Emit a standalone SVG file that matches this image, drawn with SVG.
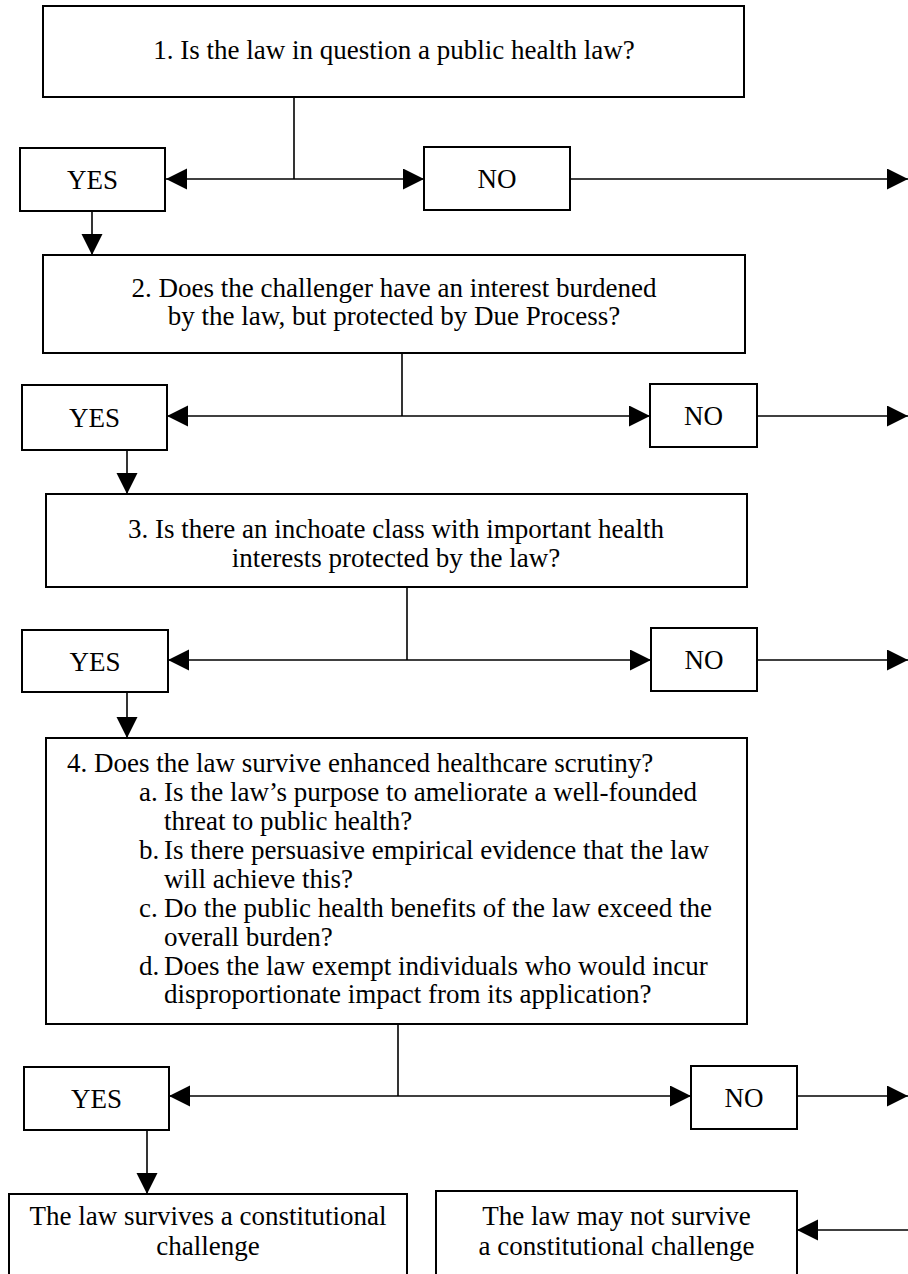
<svg xmlns="http://www.w3.org/2000/svg" width="908" height="1274" viewBox="0 0 908 1274">
<style>
  .box { fill: #ffffff; stroke: #000000; stroke-width: 2; }
  .t { font-family: "Liberation Serif", "Times New Roman", serif; font-size: 27px; fill: #000000; }
  .c { text-anchor: middle; }
  .ln { fill: none; stroke: #000000; stroke-width: 1.6; }
</style>
<defs>
  <marker id="ah" markerUnits="userSpaceOnUse" markerWidth="22" markerHeight="22" refX="21" refY="10.5" orient="auto">
    <path d="M0,0 L21,10.5 L0,21 Z" fill="#000000"/>
  </marker>
</defs>
<rect width="908" height="1274" fill="#ffffff"/>

<g id="connectors">
  <path class="ln" d="M294,97 V179"/>
  <path class="ln" d="M294,179 H166" marker-end="url(#ah)"/>
  <path class="ln" d="M294,179 H424" marker-end="url(#ah)"/>
  <path class="ln" d="M570,179 H908" marker-end="url(#ah)"/>
  <path class="ln" d="M92,211 V255" marker-end="url(#ah)"/>

  <path class="ln" d="M402,353 V416"/>
  <path class="ln" d="M402,416 H167" marker-end="url(#ah)"/>
  <path class="ln" d="M402,416 H650" marker-end="url(#ah)"/>
  <path class="ln" d="M757,416 H908" marker-end="url(#ah)"/>
  <path class="ln" d="M127,450 V494" marker-end="url(#ah)"/>

  <path class="ln" d="M407,587 V660"/>
  <path class="ln" d="M407,660 H168" marker-end="url(#ah)"/>
  <path class="ln" d="M407,660 H651" marker-end="url(#ah)"/>
  <path class="ln" d="M757,660 H908" marker-end="url(#ah)"/>
  <path class="ln" d="M127,692 V738" marker-end="url(#ah)"/>

  <path class="ln" d="M398,1024 V1096"/>
  <path class="ln" d="M398,1096 H169" marker-end="url(#ah)"/>
  <path class="ln" d="M398,1096 H691" marker-end="url(#ah)"/>
  <path class="ln" d="M797,1096 H908" marker-end="url(#ah)"/>
  <path class="ln" d="M147,1130 V1194" marker-end="url(#ah)"/>

  <path class="ln" d="M908,1230 H797" marker-end="url(#ah)"/>
</g>

<g id="q1">
  <rect class="box" x="43" y="6" width="701" height="91"/>
  <text class="t c" x="394" y="59">1. Is the law in question a public health law?</text>
</g>
<g id="yes1">
  <rect class="box" x="20" y="148" width="145" height="63"/>
  <text class="t c" x="92.5" y="189">YES</text>
</g>
<g id="no1">
  <rect class="box" x="424" y="147" width="146" height="63"/>
  <text class="t c" x="497" y="188">NO</text>
</g>

<g id="q2">
  <rect class="box" x="43" y="255" width="702" height="98"/>
  <text class="t c" x="394" y="297">2. Does the challenger have an interest burdened</text>
  <text class="t c" x="394" y="325">by the law, but protected by Due Process?</text>
</g>
<g id="yes2">
  <rect class="box" x="22" y="385" width="145" height="65"/>
  <text class="t c" x="94.5" y="427">YES</text>
</g>
<g id="no2">
  <rect class="box" x="650" y="384" width="107" height="63"/>
  <text class="t c" x="703.5" y="425">NO</text>
</g>

<g id="q3">
  <rect class="box" x="46" y="494" width="701" height="93"/>
  <text class="t c" x="396" y="538">3. Is there an inchoate class with important health</text>
  <text class="t c" x="396" y="567">interests protected by the law?</text>
</g>
<g id="yes3">
  <rect class="box" x="22" y="630" width="146" height="62"/>
  <text class="t c" x="95" y="671">YES</text>
</g>
<g id="no3">
  <rect class="box" x="651" y="628" width="106" height="63"/>
  <text class="t c" x="704" y="669">NO</text>
</g>

<g id="q4">
  <rect class="box" x="46" y="738" width="701" height="286"/>
  <text class="t" x="67" y="772">4. Does the law survive enhanced healthcare scrutiny?</text>
  <text class="t" y="801"><tspan x="139">a.</tspan><tspan x="164">Is the law’s purpose to ameliorate a well-founded</tspan></text>
  <text class="t" x="164" y="830">threat to public health?</text>
  <text class="t" y="859"><tspan x="139">b.</tspan><tspan x="164">Is there persuasive empirical evidence that the law</tspan></text>
  <text class="t" x="164" y="888">will achieve this?</text>
  <text class="t" y="917"><tspan x="139">c.</tspan><tspan x="164">Do the public health benefits of the law exceed the</tspan></text>
  <text class="t" x="164" y="946">overall burden?</text>
  <text class="t" y="975"><tspan x="139">d.</tspan><tspan x="164">Does the law exempt individuals who would incur</tspan></text>
  <text class="t" x="164" y="1003">disproportionate impact from its application?</text>
</g>
<g id="yes4">
  <rect class="box" x="24" y="1067" width="145" height="63"/>
  <text class="t c" x="96.5" y="1108">YES</text>
</g>
<g id="no4">
  <rect class="box" x="691" y="1066" width="106" height="63"/>
  <text class="t c" x="744" y="1107">NO</text>
</g>

<g id="survives">
  <rect class="box" x="9" y="1194" width="398" height="100"/>
  <text class="t c" x="208" y="1225">The law survives a constitutional</text>
  <text class="t c" x="208" y="1255">challenge</text>
</g>
<g id="maynot">
  <rect class="box" x="436" y="1191" width="361" height="103"/>
  <text class="t c" x="616.5" y="1225">The law may not survive</text>
  <text class="t c" x="616.5" y="1255">a constitutional challenge</text>
</g>
</svg>
